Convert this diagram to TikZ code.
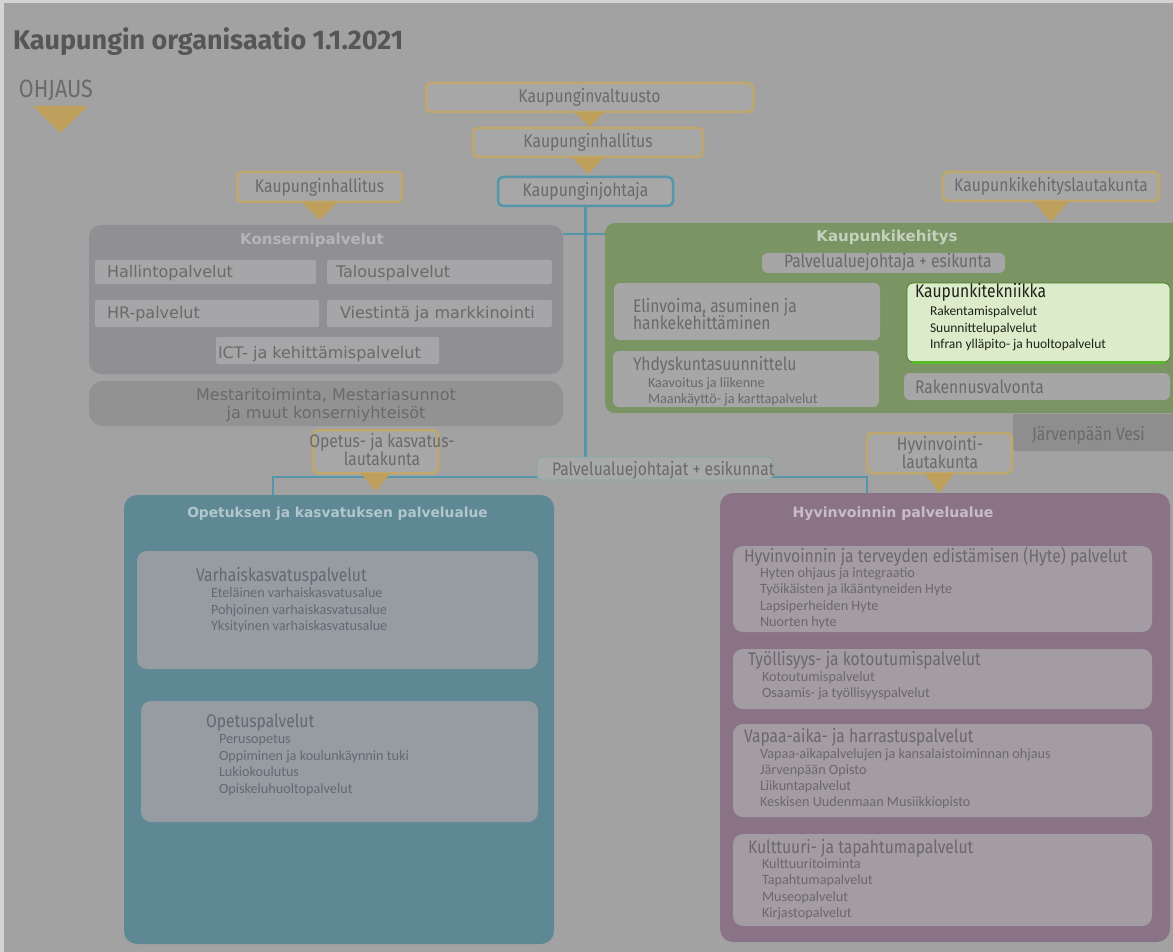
\documentclass[tikz,border=0pt]{standalone}
\usepackage{fontspec}
\setmainfont{Fira Sans}
\usetikzlibrary{backgrounds}

% type faces
\newfontfamily\lblfamily{Fira Sans}[FakeStretch=0.86]
\newfontfamily\itemfamily{Carlito}
\newfontfamily\widefamily{DejaVu Sans}
\newfontfamily\titlefamily{Fira Sans}

\newcommand\lblsz{\lblfamily\fontsize{18.2}{21}\selectfont}
\newcommand\itemsz{\itemfamily\fontsize{14.2}{16}\selectfont}
\newcommand\tekitemsz{\itemfamily\fontsize{13.5}{16}\selectfont}
\newcommand\widesz{\widefamily\fontsize{16}{19}\selectfont}
\newcommand\headsz{\widefamily\bfseries\fontsize{14.5}{17}\selectfont}
\newcommand\titlesz{\titlefamily\bfseries\fontsize{27}{32}\selectfont}
\newcommand\ohjsz{\lblfamily\fontsize{25}{30}\selectfont}

% colours
\definecolor{rim}{RGB}{212,212,212}
\definecolor{bgpage}{RGB}{162,162,162}
\definecolor{boxfill}{RGB}{167,167,167}
\definecolor{gold}{RGB}{192,168,108}
\definecolor{goldtri}{RGB}{190,160,92}
\definecolor{lineblue}{RGB}{86,150,170}
\definecolor{txt}{RGB}{106,106,106}
\definecolor{titletxt}{RGB}{86,86,88}
\definecolor{konsern}{RGB}{143,143,148}
\definecolor{konsinner}{RGB}{166,166,168}
\definecolor{konshead}{RGB}{180,180,186}
\definecolor{mestarifill}{RGB}{146,146,146}
\definecolor{kkgreen}{RGB}{122,148,100}
\definecolor{kkhead}{RGB}{198,208,190}
\definecolor{greyinner}{RGB}{166,166,166}
\definecolor{tekfill}{RGB}{220,236,202}
\definecolor{tekedge}{RGB}{88,186,40}
\definecolor{tektxt}{RGB}{30,34,28}
\definecolor{vesifill}{RGB}{142,142,142}
\definecolor{opteal}{RGB}{94,136,148}
\definecolor{ophead}{RGB}{178,198,204}
\definecolor{opinner}{RGB}{151,156,163}
\definecolor{optxt}{RGB}{100,104,112}
\definecolor{hyvpurple}{RGB}{138,115,134}
\definecolor{hyvhead}{RGB}{200,188,200}
\definecolor{hyvinner}{RGB}{163,157,163}
\definecolor{hyvtxt}{RGB}{108,102,110}
\definecolor{paljfill}{RGB}{168,170,170}
\definecolor{paljedge}{RGB}{128,168,168}

% a box given by its top-left and bottom-right corners
\newcommand\rbox[7]{%
  \node[#1, anchor=north west, minimum width={(#5-#3)*1pt},
        minimum height={(#6-#4)*1pt}] (#2) at (#3,#4) {#7};}
% a list of lines set on a common left edge
\newcommand\itemlist[6]{%
  \foreach \t [count=\i] in {#6}
    \node[#1, anchor=base west] (#2\i) at (#3, {#4+(\i-1)*#5}) {\t};}

\begin{document}
\begin{tikzpicture}[x=1pt,y=-1pt,
  every node/.style={inner sep=0pt, outer sep=0pt},
  council/.style={draw=gold, line width=2.5pt, fill=boxfill,
                  rounded corners=5pt, font=\lblsz, text=txt},
  leader/.style={council, draw=lineblue},
  conn/.style={draw=lineblue, line width=2.5pt},
  tri/.style={fill=goldtri},
  konsarea/.style={fill=konsern, rounded corners=12pt},
  konsunit/.style={fill=konsinner, rounded corners=2pt},
  konstxt/.style={font=\widesz, text=txt},
  mestbox/.style={fill=mestarifill, rounded corners=14pt},
  kkarea/.style={fill=kkgreen, rounded corners=10pt},
  kkunit/.style={fill=greyinner, rounded corners=6pt},
  kktxt/.style={font=\lblsz, text=txt},
  kkitem/.style={font=\itemsz, text=txt},
  tekunit/.style={fill=tekfill, draw=tekedge!70!black, line width=0.8pt, rounded corners=6pt},
  tektitle/.style={font=\lblsz, text=tektxt},
  tekitem/.style={font=\tekitemsz, text=tektxt},
  vesibox/.style={fill=vesifill, rounded corners=2pt},
  lautxt/.style={font=\lblsz, text=txt},
  paljbox/.style={fill=paljfill, draw=paljedge, line width=0.8pt, rounded corners=5pt},
  oparea/.style={fill=opteal, rounded corners=13pt},
  opunit/.style={fill=opinner, rounded corners=10pt},
  optitle/.style={font=\lblsz, text=optxt},
  opitem/.style={font=\itemsz, text=optxt},
  hyvarea/.style={fill=hyvpurple, rounded corners=13pt},
  hyvunit/.style={fill=hyvinner, rounded corners=10pt},
  hyvtitle/.style={font=\lblsz, text=hyvtxt},
  hyvitem/.style={font=\itemsz, text=hyvtxt},
  areahead/.style={font=\headsz, anchor=base}
]
\useasboundingbox (0,0) rectangle (1173,952);

% ---------- governance boxes ----------
\node[font=\titlesz, text=titletxt, anchor=base west] (title) at (13,50) {Kaupungin organisaatio 1.1.2021};
\node[font=\ohjsz, text=txt, anchor=base west] (ohjaus) at (19,98) {OHJAUS};
\fill[tri] (33,106) -- (88,106) -- (60.5,133) -- cycle;

\rbox{council}{valt}{426}{83}{753}{112}{Kaupunginvaltuusto}
\rbox{council}{hall}{473}{128}{703}{157}{Kaupunginhallitus}
\rbox{leader}{johtaja}{498}{177}{673}{206}{Kaupunginjohtaja}
\rbox{council}{khL}{237}{172}{402}{202}{Kaupunginhallitus}
\rbox{council}{kklk}{943}{172}{1159}{201}{Kaupunkikehityslautakunta}

% ---------- Konsernipalvelut ----------
\rbox{konsarea}{konserni}{89}{225}{563}{374}{}
\node[areahead, text=konshead, font=\widefamily\bfseries\fontsize{15}{17}\selectfont] (konsHead) at (312,244) {Konsernipalvelut};
\rbox{konsunit}{hallinto}{95}{260}{316}{284}{}
\rbox{konsunit}{talous}{327}{260}{552}{284}{}
\rbox{konsunit}{hr}{95}{300}{319}{327}{}
\rbox{konsunit}{viestinta}{327}{300}{552}{327}{}
\rbox{konsunit}{ict}{216}{337}{439}{364}{}
\node[konstxt, anchor=base west] (hallintoT) at (107,277) {Hallintopalvelut};
\node[konstxt, anchor=base west] (talousT) at (336,277) {Talouspalvelut};
\node[konstxt, anchor=base west] (hrT) at (107,318) {HR-palvelut};
\node[konstxt, anchor=base west] (viestintaT) at (340,318) {Viestintä ja markkinointi};
\node[konstxt, anchor=base west] (ictT) at (218,358) {ICT- ja kehittämispalvelut};

\rbox{mestbox}{mestari}{89}{381}{563}{426}{}
\node[konstxt, anchor=base] (mestari1) at (326,400) {Mestaritoiminta, Mestariasunnot};
\node[konstxt, anchor=base] (mestari2) at (326,418) {ja muut konserniyhteisöt};

% ---------- Kaupunkikehitys ----------
\rbox{kkarea}{kehitys}{605}{223}{1190}{413}{}
\node[areahead, text=kkhead, font=\widefamily\bfseries\fontsize{15}{17}\selectfont] (kehitysHead) at (887,242) {Kaupunkikehitys};
\rbox{kkunit}{pjesk}{762}{253}{1005}{273}{}
\node[kktxt, anchor=base west] (pjeskT) at (784,268) {Palvelualuejohtaja + esikunta};
\rbox{kkunit}{elinvoima}{614}{283}{880}{340}{}
\node[kktxt, anchor=base west] (elinvoima1) at (633,312) {Elinvoima, asuminen ja};
\node[kktxt, anchor=base west] (elinvoima2) at (633,329) {hankekehittäminen};
\rbox{kkunit}{yhdysk}{613}{351}{879}{407}{}
\node[kktxt, anchor=base west] (yhdyskT) at (633,370) {Yhdyskuntasuunnittelu};
\itemlist{kkitem}{yhd}{648}{387}{16}{{Kaavoitus ja liikenne},{Maankäyttö- ja karttapalvelut}}
\rbox{tekunit}{tek}{907}{283}{1170}{362}{}
\draw[tekedge, line width=3pt, line cap=round] ([xshift=6pt]tek.south west) -- ([xshift=-6pt]tek.south east);
\node[tektitle, anchor=base west] (tekT) at (915,298) {Kaupunkitekniikka};
\itemlist{tekitem}{tekI}{930}{315.5}{16.5}{{Rakentamispalvelut},{Suunnittelupalvelut},{Infran ylläpito- ja huoltopalvelut}}
\rbox{kkunit}{rakval}{904}{373}{1170}{400}{}
\node[kktxt, anchor=base west] (rakvalT) at (915,393) {Rakennusvalvonta};

\rbox{vesibox}{vesi}{1013}{414}{1190}{451}{}
\node[kktxt, anchor=base west] (vesiT) at (1032,440) {Järvenpään Vesi};

% ---------- boards of the service areas ----------
\rbox{council}{oklk}{313}{430}{438}{473}{}
\node[lautxt, anchor=base] (oklk1) at (382,447) {Opetus- ja kasvatus-};
\node[lautxt, anchor=base] (oklk2) at (382,465) {lautakunta};
\fill[tri] (oklk.south) ++(-15,0) -- ++(30,0) -- ++(-15,18) -- cycle;

\rbox{council}{hlk}{867}{433}{1012}{473}{}
\node[lautxt, anchor=base] (hlk1) at (940,450) {Hyvinvointi-};
\node[lautxt, anchor=base] (hlk2) at (940,468) {lautakunta};
\fill[tri] (hlk.south) ++(-15,0) -- ++(30,0) -- ++(-15,20) -- cycle;

\rbox{paljbox}{palj}{537}{457}{773}{480}{}
\node[lautxt, anchor=base west] (paljT) at (552,475) {Palvelualuejohtajat + esikunnat};

% ---------- Opetuksen ja kasvatuksen palvelualue ----------
\rbox{oparea}{opk}{124}{495}{554}{944}{}
\node[areahead, text=ophead, font=\widefamily\bfseries\fontsize{13.8}{16}\selectfont] (opkHead) at (337.5,517) {Opetuksen ja kasvatuksen palvelualue};
\rbox{opunit}{varhais}{137}{551}{538}{669}{}
\node[optitle, anchor=base west] (varhaisT) at (196,581) {Varhaiskasvatuspalvelut};
\itemlist{opitem}{vk}{211}{597.5}{16.5}{{Eteläinen varhaiskasvatusalue},{Pohjoinen varhaiskasvatusalue},{Yksityinen varhaiskasvatusalue}}
\rbox{opunit}{opetus}{141}{701}{538}{822}{}
\node[optitle, anchor=base west] (opetusT) at (206,727) {Opetuspalvelut};
\itemlist{opitem}{op}{219}{743.5}{16.5}{{Perusopetus},{Oppiminen ja koulunkäynnin tuki},{Lukiokoulutus},{Opiskeluhuoltopalvelut}}

% ---------- Hyvinvoinnin palvelualue ----------
\rbox{hyvarea}{hyv}{720}{493}{1170}{942}{}
\node[areahead, text=hyvhead, font=\widefamily\bfseries\fontsize{14.1}{16}\selectfont] (hyvHead) at (893,517) {Hyvinvoinnin palvelualue};
\rbox{hyvunit}{hyte}{733}{546}{1152}{632}{}
\node[hyvtitle, anchor=base west] (hyteT) at (744,562) {Hyvinvoinnin ja terveyden edistämisen (Hyte) palvelut};
\itemlist{hyvitem}{hy}{760}{577.5}{16.3}{{Hyten ohjaus ja integraatio},{Työikäisten ja ikääntyneiden Hyte},{Lapsiperheiden Hyte},{Nuorten hyte}}
\rbox{hyvunit}{tyo}{733}{649}{1152}{709}{}
\node[hyvtitle, anchor=base west] (tyoT) at (748,665) {Työllisyys- ja kotoutumispalvelut};
\itemlist{hyvitem}{ty}{762}{681}{16.3}{{Kotoutumispalvelut},{Osaamis- ja työllisyyspalvelut}}
\rbox{hyvunit}{vapaa}{733}{724}{1152}{817}{}
\node[hyvtitle, anchor=base west] (vapaaT) at (744,742) {Vapaa-aika- ja harrastuspalvelut};
\itemlist{hyvitem}{va}{760}{758}{16.3}{{Vapaa-aikapalvelujen ja kansalaistoiminnan ohjaus},{Järvenpään Opisto},{Liikuntapalvelut},{Keskisen Uudenmaan Musiikkiopisto}}
\rbox{hyvunit}{kult}{733}{834}{1152}{926}{}
\node[hyvtitle, anchor=base west] (kultT) at (748,853) {Kulttuuri- ja tapahtumapalvelut};
\itemlist{hyvitem}{ku}{762}{868.5}{16.3}{{Kulttuuritoiminta},{Tapahtumapalvelut},{Museopalvelut},{Kirjastopalvelut}}

% ---------- governance arrows ----------
\fill[tri] (valt.south) ++(-15,0) -- ++(30,0) -- ++(-15,15) -- cycle;
\fill[tri] (hall.south) ++(-16,0) -- ++(32,0) -- ++(-16,17) -- cycle;
\fill[tri] (khL.south) ++(-18,0) -- ++(36,0) -- ++(-18,18) -- cycle;
\fill[tri] (kklk.south) ++(-18,0) -- ++(36,0) -- ++(-18,21) -- cycle;

% ---------- page and management lines ----------
\begin{pgfonlayer}{background}
  \fill[rim] (0,0) rectangle (1173,952);
  \fill[bgpage] (4,3) rectangle (1180,960);
  \coordinate (jx) at (585,234);
  \coordinate (busL) at (273,477);
  \coordinate (busR) at (867,477);
  \draw[conn] (johtaja.south) -- (johtaja.south |- palj.north);
  \draw[conn] (konserni.east |- jx) -- (kehitys.west |- jx);
  \draw[conn] (busL |- opk.north) -- (busL) -- (busR) -- (busR |- hyv.north);
\end{pgfonlayer}
\end{tikzpicture}
\end{document}
